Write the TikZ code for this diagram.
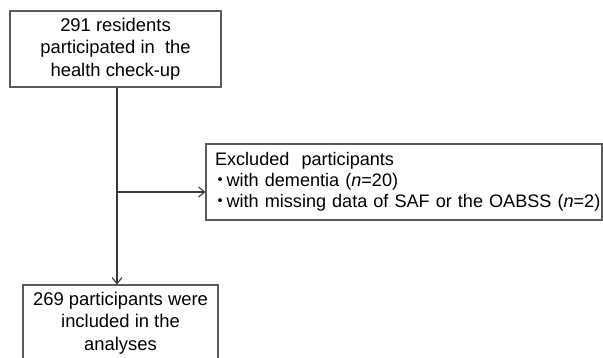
\documentclass[tikz,border=0pt]{standalone}
\usepackage{fontspec}
\setmainfont{Liberation Sans}
\newfontfamily\cjk{Noto Sans CJK JP}
\usetikzlibrary{arrows.meta}
\usetikzlibrary{positioning}
\definecolor{boxgray}{HTML}{5A5A5A}
\definecolor{linegray}{HTML}{383838}
\newcommand{\dotitem}{\hspace*{-4pt}{\cjk ・}\hspace{-2.5pt}}

\begin{document}
\begin{tikzpicture}[x=1pt,y=-1pt,
  every node/.style={draw=boxgray,line width=1.1pt,inner sep=0pt,
    font=\fontsize{18.1}{21.2}\selectfont},
  centerbox/.style={minimum width=211pt,minimum height=76pt,align=center,
    font=\fontsize{18.4}{22.6}\selectfont},
  every path/.style={line width=1.1pt},
  arr/.style={draw=linegray,-{Straight Barb[length=6pt,width=10pt]}},
]
\useasboundingbox (0,0) rectangle (603,357);
\node[centerbox](checkup) at(115.5,49){291 residents\\participated in\ \ the\\health check-up};
\node[centerbox,minimum width=195pt](incl) at(120.5,323){269 participants were\\included in the\\analyses};
\node[minimum width=396pt,minimum height=76pt,align=left,text width=378pt](excl) at(404,182)
  {Excluded\ \ participants\\\dotitem with dementia (\textit{n}=20)\\\makebox[378pt][l]{\dotitem with missing data of SAF or the OABSS (\textit{n}=2)}};
\coordinate(junc) at(117,192);
\draw[arr](checkup.south -| junc)--(incl.north -| junc);
\draw[arr](junc)--(junc -| excl.west);
\end{tikzpicture}
\end{document}
